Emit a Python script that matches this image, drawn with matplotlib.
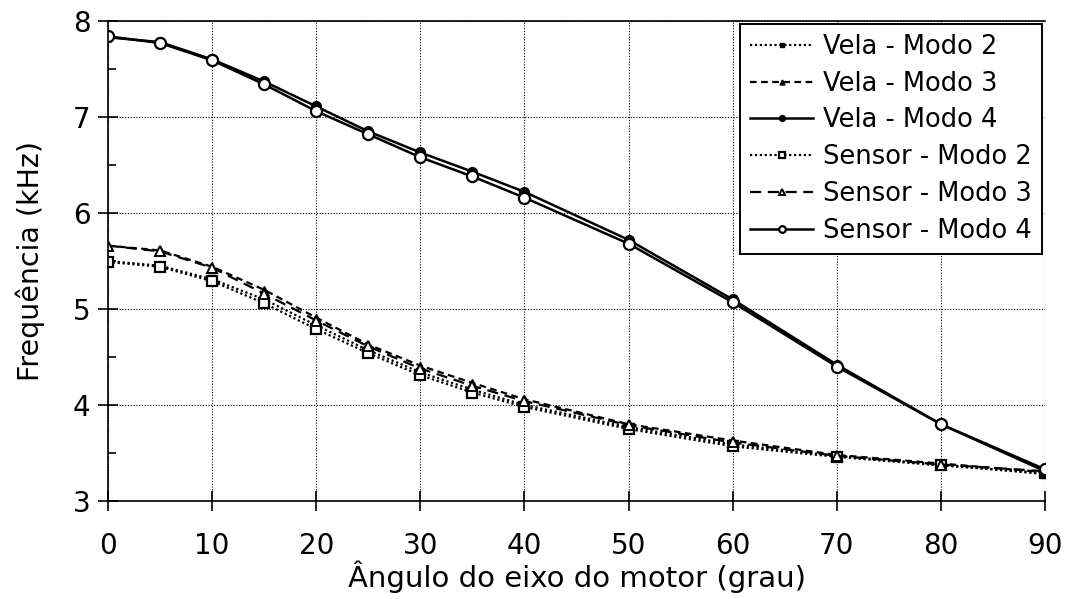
import numpy as np
import matplotlib
matplotlib.use("Agg")
import matplotlib.pyplot as plt
from matplotlib.ticker import MultipleLocator

# angle of the motor axis (deg)
angulo = [0, 5, 10, 15, 20, 25, 30, 35, 40, 50, 60, 70, 80, 90]

# frequencies (kHz)
vela_modo2 = [5.50, 5.45, 5.31, 5.10, 4.83, 4.57, 4.34, 4.16, 4.00, 3.77, 3.59, 3.47, 3.38, 3.28]
vela_modo3 = [5.66, 5.61, 5.44, 5.20, 4.91, 4.63, 4.41, 4.23, 4.06, 3.80, 3.63, 3.48, 3.39, 3.30]
vela_modo4 = [7.83, 7.78, 7.60, 7.37, 7.11, 6.85, 6.63, 6.43, 6.22, 5.72, 5.10, 4.42, 3.80, 3.31]
sensor_modo2 = [5.49, 5.44, 5.29, 5.06, 4.79, 4.54, 4.31, 4.13, 3.98, 3.75, 3.57, 3.46, 3.37, 3.29]
sensor_modo3 = [5.66, 5.60, 5.43, 5.16, 4.88, 4.61, 4.38, 4.20, 4.04, 3.79, 3.61, 3.47, 3.38, 3.31]
sensor_modo4 = [7.84, 7.77, 7.59, 7.34, 7.06, 6.82, 6.58, 6.38, 6.16, 5.68, 5.07, 4.40, 3.80, 3.33]

labels = ["Vela - Modo 2", "Vela - Modo 3", "Vela - Modo 4",
          "Sensor - Modo 2", "Sensor - Modo 3", "Sensor - Modo 4"]

fig = plt.figure(figsize=(10.68, 5.99), dpi=100)
ax = fig.add_axes([0.1011, 0.1636, 0.8774, 0.8014])

# vela: filled markers, sensor: open markers
ax.plot(angulo, vela_modo2, color='k', lw=1.6, ls=(0, (1, 1.2)), marker='s', ms=6,
        mfc='k', mec='k', label=labels[0])
ax.plot(angulo, vela_modo3, color='k', lw=1.6, ls=(0, (3, 2)), marker='^', ms=6,
        mfc='k', mec='k', label=labels[1])
ax.plot(angulo, vela_modo4, color='k', lw=1.8, ls='-', marker='o', ms=7,
        mfc='k', mec='k', label=labels[2])
ax.plot(angulo, sensor_modo2, color='k', lw=1.6, ls=(0, (1, 1.2)), marker='s', ms=7,
        mfc='white', mec='k', mew=1.6, label=labels[3])
ax.plot(angulo, sensor_modo3, color='k', lw=1.6, ls=(0, (5, 3)), marker='^', ms=7,
        mfc='white', mec='k', mew=1.4, label=labels[4])
ax.plot(angulo, sensor_modo4, color='k', lw=1.8, ls='-', marker='o', ms=8,
        mfc='white', mec='k', mew=1.6, label=labels[5])

ax.set_xlim(0, 90)
ax.set_ylim(3, 8)
ax.xaxis.set_major_locator(MultipleLocator(10))
ax.yaxis.set_major_locator(MultipleLocator(1))
ax.yaxis.set_minor_locator(MultipleLocator(0.5))
ax.tick_params(axis='x', which='major', direction='inout', length=15, width=1.2,
               labelsize=20, pad=15)
ax.tick_params(axis='y', which='major', direction='inout', length=15, width=1.2,
               labelsize=20, pad=5)
ax.tick_params(axis='y', which='minor', direction='in', length=6, width=1.2)
ax.grid(True, which='major', color='k', ls=(0, (1, 1.5)), lw=0.8)

for side in ['left', 'bottom', 'top']:
    ax.spines[side].set_linewidth(1.2)
ax.spines['right'].set_visible(False)

ax.set_xlabel("Ângulo do eixo do motor (grau)", fontsize=21, labelpad=0)
ax.set_ylabel("Frequência (kHz)", fontsize=20.5, labelpad=20)

leg = ax.legend(loc='upper right', fontsize=18.5, markerscale=0.6, handlelength=2.45,
                labelspacing=0.42, borderaxespad=0.1, fancybox=False,
                framealpha=1, edgecolor='k', handletextpad=0.4)
leg.get_frame().set_linewidth(1.4)

fig.savefig("out.png", dpi=100)
